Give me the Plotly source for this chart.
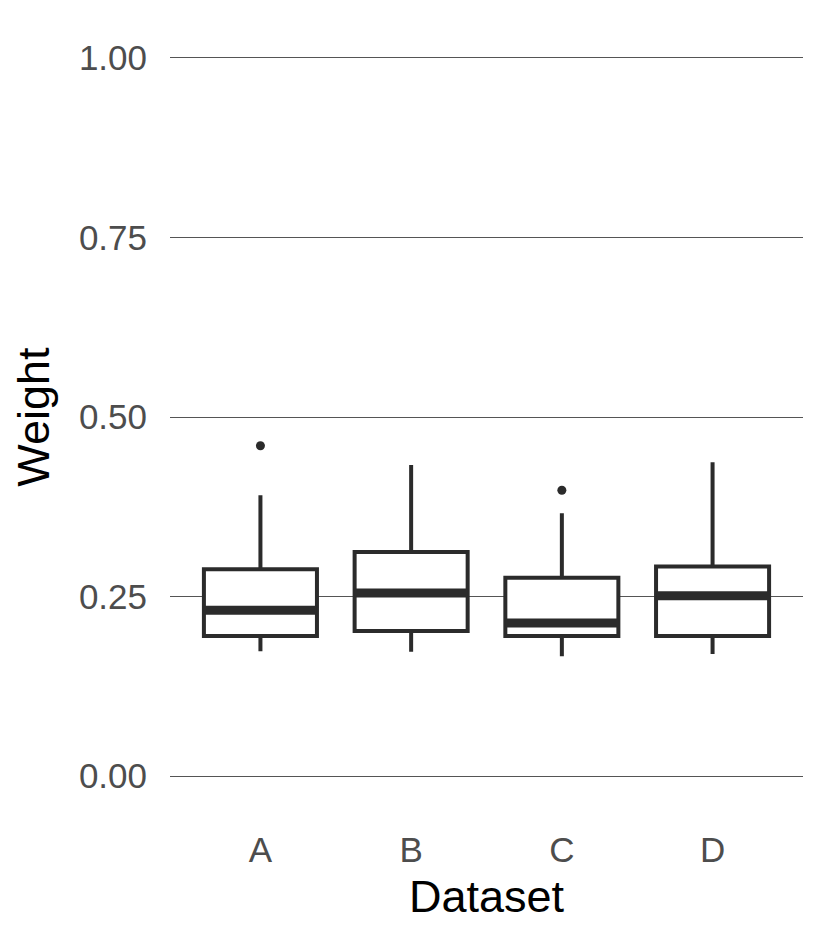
import plotly.graph_objects as go

datasets = ["A", "B", "C", "D"]
q1 = [0.195, 0.202, 0.195, 0.195]
median = [0.231, 0.255, 0.213, 0.251]
q3 = [0.288, 0.312, 0.276, 0.292]
lowerfence = [0.174, 0.173, 0.167, 0.170]
upperfence = [0.391, 0.433, 0.366, 0.437]
outlier_x = ["A", "C"]
outlier_y = [0.460, 0.398]
y_ticks = [0.00, 0.25, 0.50, 0.75, 1.00]
y_ticklabels = ["0.00", "0.25", "0.50", "0.75", "1.00"]

BOX_W = 0.75
LINE = "#2b2b2b"

fig = go.Figure()
fig.add_trace(go.Box(
    x=datasets, q1=q1, median=median, q3=q3,
    lowerfence=lowerfence, upperfence=upperfence,
    width=BOX_W, whiskerwidth=0, boxpoints=False,
    fillcolor="white", line=dict(color=LINE, width=4),
    showlegend=False, hoverinfo="skip",
))
fig.add_trace(go.Scatter(
    x=outlier_x, y=outlier_y, mode="markers",
    marker=dict(color=LINE, size=9), showlegend=False, hoverinfo="skip",
))

for i, m in enumerate(median):
    fig.add_shape(type="line", xref="x", yref="y",
                  x0=i - BOX_W / 2, x1=i + BOX_W / 2, y0=m, y1=m,
                  line=dict(color=LINE, width=9), layer="above")

fig.update_layout(
    width=810, height=930,
    margin=dict(l=162, r=15, t=14, b=126),
    plot_bgcolor="white", paper_bgcolor="white",
    font=dict(family="Liberation Sans, Arial, sans-serif"),
)
fig.update_xaxes(
    type="category", categoryorder="array", categoryarray=datasets,
    range=[-0.6, 3.6], showgrid=False, zeroline=False, showline=False,
    ticks="", ticklabelstandoff=14,
    tickfont=dict(size=35, color="#4d4d4d"),
    title=dict(text="Dataset", font=dict(size=45, color="black"), standoff=12),
)
fig.update_yaxes(
    range=[-0.05, 1.05], tickvals=y_ticks, ticktext=y_ticklabels,
    showgrid=True, gridcolor="#555555", gridwidth=1, zeroline=False,
    showline=False, ticks="", ticklabelstandoff=22,
    tickfont=dict(size=35, color="#4d4d4d"),
    title=dict(text="Weight", font=dict(size=45, color="black"), standoff=18),
)

fig.write_html("out.html")
